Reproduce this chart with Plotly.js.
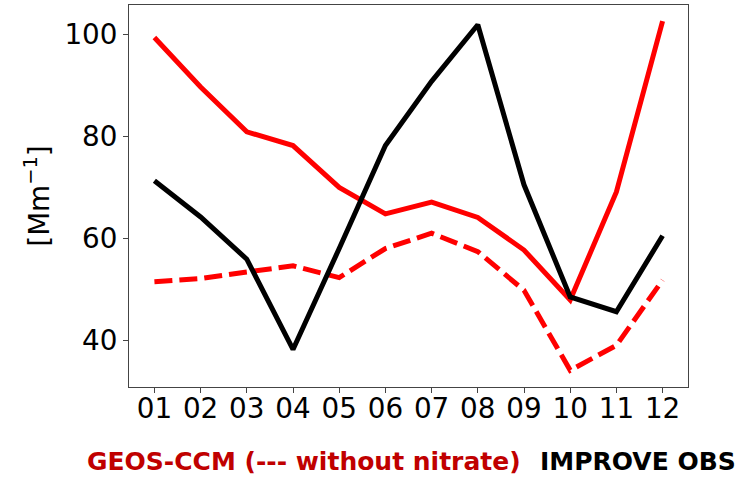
<!DOCTYPE html>
<html>
<head>
<meta charset="utf-8">
<script src="https://cdn.plot.ly/plotly-3.0.1.min.js"></script>
<style>
  html, body { margin: 0; padding: 0; background: #fff; }
  #chart { width: 745px; height: 478px; }
</style>
</head>
<body>
<div id="chart"></div>
<script>
// Monthly mean values [Mm^-1]
const months = ['01', '02', '03', '04', '05', '06', '07', '08', '09', '10', '11', '12'];
const geosCcm = [99.4, 89.7, 80.9, 78.2, 70.0, 64.8, 67.1, 64.1, 57.7, 47.9, 69.1, 102.6];
const geosCcmNoNitrate = [51.5, 52.1, 53.4, 54.6, 52.3, 58.0, 61.0, 57.4, 49.8, 34.1, 39.0, 51.8];
const improveObs = [71.3, 64.2, 55.9, 38.2, 58.0, 78.2, 90.8, 101.9, 70.5, 48.5, 45.6, 60.5];
const yTicks = [40, 60, 80, 100];

const xIdx = months.map((m, i) => i + 1);

const traces = [
  {
    x: xIdx, y: geosCcm, type: 'scatter', mode: 'lines',
    line: { color: '#ff0000', width: 5 }, name: 'GEOS-CCM'
  },
  {
    x: xIdx, y: geosCcmNoNitrate, type: 'scatter', mode: 'lines',
    line: { color: '#ff0000', width: 5, dash: '18px,7px' }, name: 'GEOS-CCM without nitrate'
  },
  {
    x: xIdx, y: improveObs, type: 'scatter', mode: 'lines',
    line: { color: '#000000', width: 5 }, name: 'IMPROVE OBS'
  }
];

const axisFont = { family: 'DejaVu Sans', size: 27.8, color: '#000' };

const layout = {
  width: 745, height: 478,
  margin: { l: 129, r: 57, t: 5, b: 91, pad: 0 },
  paper_bgcolor: '#fff', plot_bgcolor: '#fff',
  showlegend: false,
  xaxis: {
    range: [0.45, 12.55],
    tickvals: xIdx, ticktext: months,
    ticks: 'outside', ticklen: 5, tickwidth: 1, tickcolor: '#444',
    showline: true, linecolor: '#444', linewidth: 1, mirror: true,
    showgrid: false, zeroline: false,
    tickfont: axisFont,
    ticklabelstandoff: -8
  },
  yaxis: {
    range: [30.83, 105.78],
    tickvals: yTicks,
    ticks: 'outside', ticklen: 5, tickwidth: 1, tickcolor: '#444',
    showline: true, linecolor: '#444', linewidth: 1, mirror: true,
    showgrid: false, zeroline: false,
    tickfont: axisFont,
    title: { text: '[Mm<sup>−1</sup>]', font: axisFont, standoff: 6 }
  },
  annotations: [
    {
      text: '<b>GEOS-CCM (--- without nitrate)</b>',
      xref: 'paper', yref: 'paper', x: (85 - 129) / 559, y: -0.194,
      xanchor: 'left', yanchor: 'middle', showarrow: false,
      font: { family: 'DejaVu Sans', size: 25, color: '#c00000' }
    },
    {
      text: '<b>IMPROVE OBS</b>',
      xref: 'paper', yref: 'paper', x: (538 - 129) / 559, y: -0.194,
      xanchor: 'left', yanchor: 'middle', showarrow: false,
      font: { family: 'DejaVu Sans', size: 25, color: '#000000' }
    }
  ]
};

Plotly.newPlot('chart', traces, layout, { displayModeBar: false, staticPlot: true });
</script>
</body>
</html>
